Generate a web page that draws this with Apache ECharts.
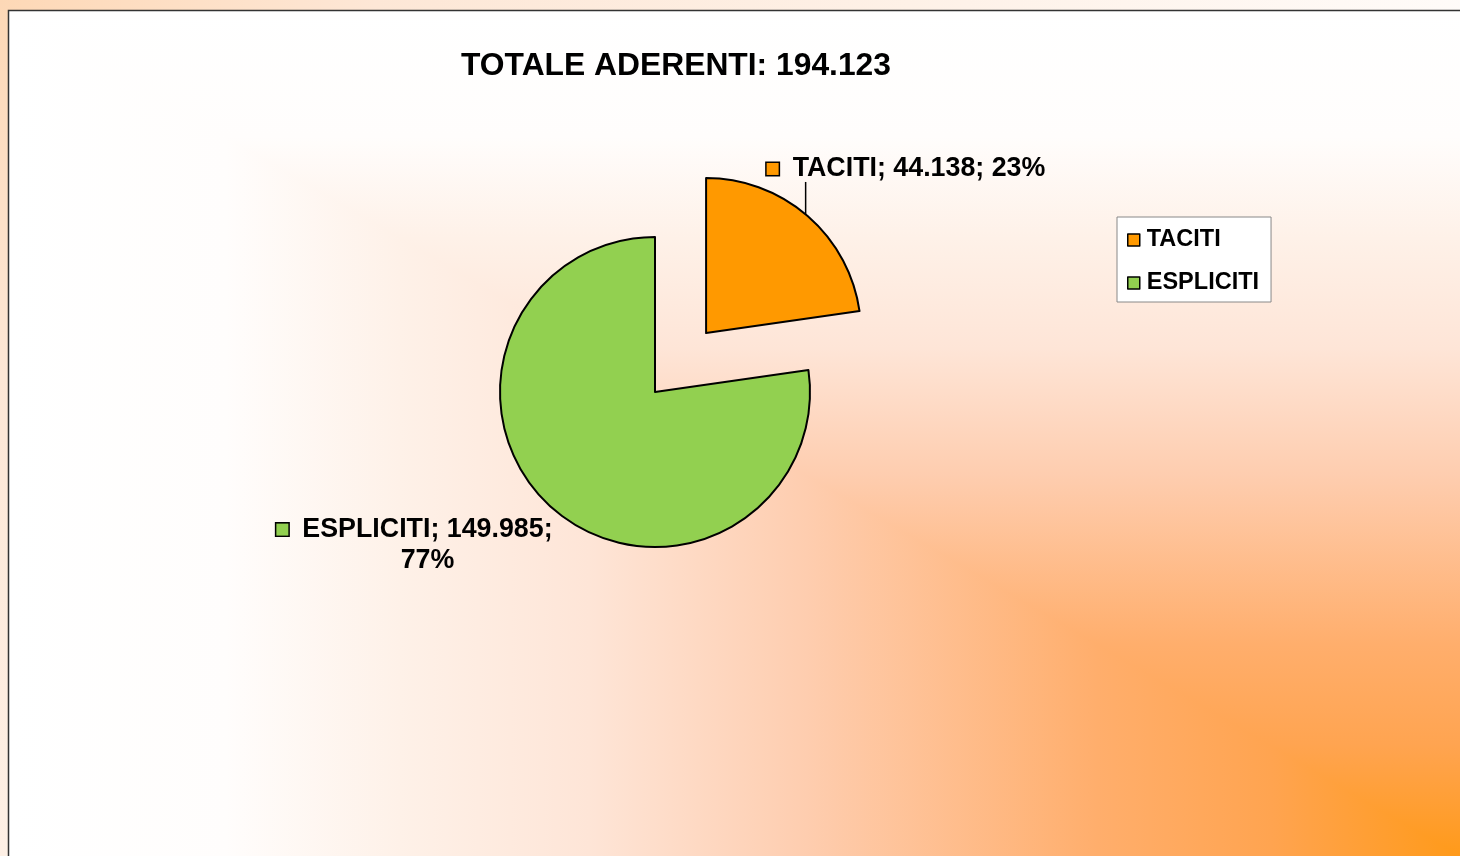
<!DOCTYPE html>
<html>
<head>
<meta charset="utf-8">
<script src="https://cdn.jsdelivr.net/npm/echarts@6/dist/echarts.min.js"></script>
<style>
  html, body { margin: 0; padding: 0; }
  #chart { width: 1460px; height: 856px; }
</style>
</head>
<body>
<div id="chart"></div>
<script>
// dati
const names = ['TACITI', 'ESPLICITI']
const values = [44138, 149985]
const colors = ['#ff9900', '#92d050']
const titleLabel = 'TOTALE ADERENTI'

const FONT = '"Liberation Sans", Arial, sans-serif'
const CENTER = [655, 392]
const RADIUS = 155
const OFFSET = 78 // fetta esplosa (TACITI)

const total = values.reduce((a, b) => a + b, 0)

function fmt (n) {
  return String(n).replace(/\B(?=(\d{3})+(?!\d))/g, '.')
}

// angolo a metà fetta, da ore 12 in senso orario
function midAngle (i) {
  let before = 0
  for (let k = 0; k < i; k++) before += values[k]
  return 2 * Math.PI * (before + values[i] / 2) / total
}

// centro della torta per la fetta i (la 0 è spostata verso l'esterno)
function centerOf (i) {
  const th = midAngle(i)
  const off = i === 0 ? OFFSET : 0
  return [CENTER[0] + off * Math.sin(th), CENTER[1] - off * Math.cos(th)]
}

function arcPoint (i) {
  const th = midAngle(i)
  const c = centerOf(i)
  return [c[0] + RADIUS * Math.sin(th), c[1] - RADIUS * Math.cos(th)]
}

const bgStops = [
  { offset: 0, color: '#ffffff' },
  { offset: 0.15, color: '#fffdfc' },
  { offset: 0.27, color: '#fef1e8' },
  { offset: 0.4, color: '#fee5d7' },
  { offset: 0.55, color: '#fecdaf' },
  { offset: 0.75, color: '#ffae6c' },
  { offset: 0.87, color: '#ffa450' },
  { offset: 1, color: '#ff9a1a' }
]

const labelRich = {
  t: { fontFamily: FONT, fontSize: 26.8, fontWeight: 'bold', color: '#000', lineHeight: 31 },
  o: { width: 12, height: 12, backgroundColor: colors[0], borderColor: '#000', borderWidth: 1.5 },
  g: { width: 12, height: 12, backgroundColor: colors[1], borderColor: '#000', borderWidth: 1.5 },
  s: { width: 12, height: 12 },
  gap: { width: 14 }
}

function labelText (p) {
  const pct = Math.round(p.value / total * 100) + '%'
  if (p.dataIndex === 0) {
    return '{o|}{gap|}{t|' + p.name + '; ' + fmt(p.value) + '; ' + pct + '}'
  }
  return '{g|}{gap|}{t|' + p.name + '; ' + fmt(p.value) + ';}\n{s|}{gap|}{t|' + pct + '}'
}

function layoutLabel (params) {
  const i = params.dataIndex
  const p = arcPoint(i)
  if (i === 0) {
    return {
      x: p[0] - 41, y: p[1] - 47, align: 'left', verticalAlign: 'middle',
      labelLinePoints: [[p[0] - 2, p[1] - 1], [p[0] - 2, p[1] - 34], [p[0] - 2, p[1] - 34]]
    }
  }
  return { x: p[0] - 139, y: p[1] + 36, align: 'center', verticalAlign: 'middle' }
}

// una serie per fetta: la fetta visibile è colorata, l'altra è trasparente
function pieSeries (visible) {
  return {
    type: 'pie',
    center: centerOf(visible),
    radius: RADIUS,
    startAngle: 90,
    clockwise: true,
    silent: true,
    emphasis: { disabled: true },
    label: {
      show: true,
      position: 'outside',
      fontFamily: FONT,
      fontSize: 26.8,
      fontWeight: 'bold',
      color: '#000',
      formatter: labelText,
      rich: labelRich
    },
    labelLine: { show: true, lineStyle: { color: '#000', width: 1.5 } },
    labelLayout: layoutLabel,
    data: names.map(function (n, i) {
      const on = i === visible
      return {
        name: n,
        value: values[i],
        itemStyle: on
          ? { color: colors[i], borderColor: '#000', borderWidth: 2 }
          : { color: 'rgba(0,0,0,0)', borderWidth: 0 },
        label: { show: on },
        labelLine: { show: on && i === 0 }
      }
    })
  }
}

let myChart = echarts.init(document.getElementById('chart'))

let option = {
  animation: false,
  backgroundColor: {
    type: 'radial', x: 0, y: 0, r: 1500, global: true,
    colorStops: [
      { offset: 0, color: '#fdd8b6' },
      { offset: 0.25, color: '#fde7d6' },
      { offset: 1, color: '#fffcfa' }
    ]
  },
  title: {
    text: titleLabel + ': ' + fmt(total),
    left: 461,
    top: 50,
    padding: 0,
    textStyle: { fontFamily: FONT, fontSize: 31.8, fontWeight: 'bold', color: '#000' }
  },
  graphic: [
    {
      type: 'rect', z: -10, silent: true,
      shape: { x: 8, y: 10, width: 1460, height: 860 },
      style: { fill: { type: 'linear', x: 8, y: 0, x2: 1460, y2: 0, global: true, colorStops: bgStops } }
    },
    {
      type: 'polygon', z: -9, silent: true,
      shape: { points: [[8, 10], [1460, 10], [1460, 856]] },
      style: { fill: { type: 'linear', x: 0, y: 10, x2: 0, y2: 856, global: true, colorStops: bgStops } }
    },
    {
      type: 'rect', z: -8, silent: true,
      shape: { x: 8.5, y: 10.5, width: 1460, height: 860 },
      style: { fill: null, stroke: '#333', lineWidth: 1.5 }
    }
  ],
  legend: {
    orient: 'vertical',
    left: 1117,
    top: 217,
    padding: [11, 12, 7, 10],
    itemGap: 19,
    itemWidth: 12,
    itemHeight: 12,
    icon: 'rect',
    selectedMode: false,
    backgroundColor: '#ffffff',
    borderColor: '#888',
    borderWidth: 1,
    borderRadius: 0,
    textStyle: { fontFamily: FONT, fontSize: 23.5, fontWeight: 'bold', color: '#000', padding: [0, 0, 0, 2] },
    data: names.map(function (n, i) {
      return { name: n, itemStyle: { color: colors[i], borderColor: '#000', borderWidth: 1.5 } }
    })
  },
  series: [pieSeries(1), pieSeries(0)]
}

myChart.setOption(option, true)
</script>
</body>
</html>
